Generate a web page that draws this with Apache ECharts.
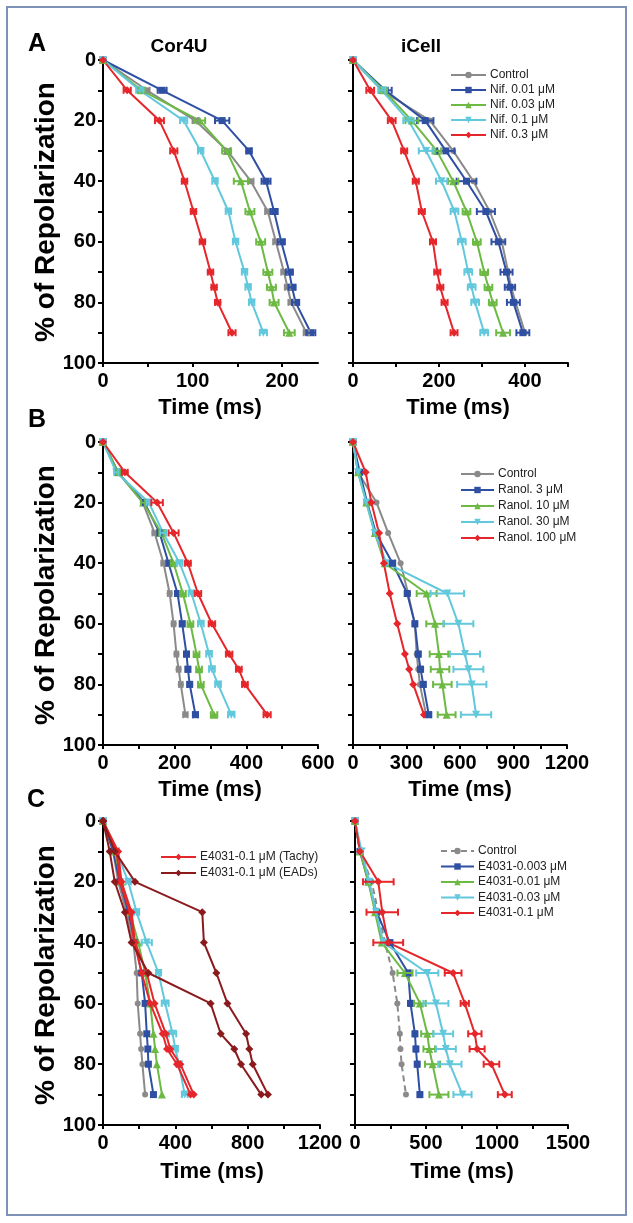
<!DOCTYPE html>
<html><head><meta charset="utf-8">
<script src="https://cdn.jsdelivr.net/npm/echarts@6/dist/echarts.min.js"></script>
<style>html,body{margin:0;padding:0;background:#fff}#c{width:633px;height:1223px}</style>
</head><body><div id="c"></div>
<script>
// ---------- data ----------
const pct = [0, 10, 20, 30, 40, 50, 60, 70, 75, 80, 90];
const yTicks = [0, 10, 20, 30, 40, 50, 60, 70, 80, 90, 100];
const yLabels = [0, 20, 40, 60, 80, 100];

// Panel A left (Cor4U, Nifedipine)
const aL_ctrl = [0, 49, 103, 139, 165, 184, 193, 202, 206, 210, 227];
const aL_n001 = [0, 66, 133, 163, 182, 191, 199, 208, 211, 215, 232];
const aL_n003 = [0, 43, 108, 138, 154, 164, 176, 184, 188, 191, 208];
const aL_n01  = [0, 41, 90, 109, 125, 140, 148, 158, 162, 166, 179];
const aL_n03  = [0, 27, 63, 79, 91, 101, 111, 120, 124, 128, 144];
const aL_ctrl_err = [0, 3, 3, 3, 3, 3, 3, 3, 3, 3, 3];
const aL_n001_err = [0, 5, 8, 3, 5, 4, 4, 4, 4, 4, 5];
const aL_n003_err = [0, 4, 6, 5, 8, 5, 5, 5, 5, 5, 6];
const aL_n01_err  = [0, 4, 4, 3, 3, 3, 3, 3, 3, 3, 4];
const aL_n03_err  = [0, 4, 5, 4, 3, 3, 3, 3, 3, 3, 4];

// Panel A right (iCell, Nifedipine)
const aR_ctrl = [0, 67, 179, 233, 280, 318, 346, 361, 368, 378, 400];
const aR_n001 = [0, 75, 168, 216, 264, 309, 338, 357, 365, 373, 395];
const aR_n003 = [0, 71, 137, 195, 233, 264, 288, 305, 315, 325, 349];
const aR_n01  = [0, 67, 129, 170, 206, 236, 253, 268, 276, 284, 305];
const aR_n03  = [0, 40, 90, 119, 146, 160, 186, 196, 203, 213, 235];
const aR_ctrl_err = [0, 0, 0, 0, 0, 0, 0, 0, 0, 0, 0];
const aR_n001_err = [0, 15, 19, 20, 23, 21, 16, 14, 12, 15, 15];
const aR_n003_err = [0, 8, 15, 10, 12, 9, 9, 9, 9, 9, 16];
const aR_n01_err  = [0, 8, 12, 17, 13, 9, 9, 9, 9, 9, 9];
const aR_n03_err  = [0, 9, 9, 7, 7, 7, 7, 7, 7, 7, 8];

// Panel B left (Cor4U, Ranolazine)
const bL_ctrl = [0, 42, 111, 144, 169, 186, 197, 205, 211, 217, 230];
const bL_r3   = [0, 42, 116, 158, 183, 208, 221, 233, 237, 242, 258];
const bL_r10  = [0, 42, 112, 163, 197, 223, 244, 261, 268, 273, 310];
const bL_r30  = [0, 37, 128, 168, 214, 247, 273, 296, 304, 321, 358];
const bL_r100 = [0, 61, 151, 197, 237, 265, 304, 352, 379, 396, 458];
const bL_ctrl_err = [0, 5, 5, 6, 6, 5, 5, 5, 5, 5, 6];
const bL_r3_err   = [0, 5, 5, 6, 6, 6, 6, 6, 6, 6, 7];
const bL_r10_err  = [0, 5, 6, 6, 8, 8, 8, 8, 8, 8, 9];
const bL_r30_err  = [0, 6, 6, 8, 8, 8, 8, 8, 8, 8, 9];
const bL_r100_err = [0, 8, 16, 14, 8, 9, 9, 9, 8, 8, 10];

// Panel B right (iCell, Ranolazine)
const bR_ctrl = [0, 28, 132, 197, 267, 309, 347, 357, 366, 375, 410];
const bR_r3   = [0, 38, 79, 128, 222, 304, 347, 366, 379, 394, 425];
const bR_r10  = [0, 28, 75, 122, 178, 413, 460, 482, 488, 501, 525];
const bR_r30  = [0, 28, 75, 122, 188, 529, 591, 628, 647, 666, 690];
const bR_r100 = [0, 71, 103, 146, 173, 206, 248, 291, 315, 338, 398];
const bR_ctrl_err = [0, 0, 0, 0, 0, 0, 0, 0, 0, 0, 0];
const bR_r3_err   = [0, 0, 0, 0, 14, 11, 11, 11, 11, 12, 12];
const bR_r10_err  = [0, 0, 0, 0, 0, 56, 49, 52, 52, 52, 50];
const bR_r30_err  = [0, 0, 0, 0, 0, 94, 84, 84, 84, 82, 85];
const bR_r100_err = [0, 0, 0, 0, 0, 0, 0, 0, 0, 0, 0];

// Panel C left (Cor4U, E4031)
const cL_ctrl = [0, 56, 84, 130, 168, 186, 192, 205, 211, 218, 233];
const cL_e003 = [0, 56, 93, 140, 177, 214, 233, 242, 248, 251, 279];
const cL_e01  = [0, 65, 102, 149, 195, 233, 261, 279, 288, 298, 326];
const cL_e03  = [0, 74, 140, 186, 242, 307, 344, 385, 400, 420, 452];
const cL_tachy1 = [0, 84, 102, 158, 177, 242, 285, 348, 372, 428, 502];
const cL_tachy2 = [0, 75, 93, 149, 173, 214, 261, 330, 354, 409, 484];
const cL_ead1 = [0, 65, 177, 549, 558, 627, 688, 791, 809, 828, 912];
const cL_ead2 = [0, 37, 65, 121, 158, 251, 595, 651, 726, 763, 875];
const cL_e03_err = [0, 8, 14, 14, 28, 14, 19, 20, 14, 14, 16];

// Panel C right (iCell, E4031)
const cR_ctrl = [0, 35, 117, 164, 211, 265, 298, 316, 320, 328, 359];
const cR_e0003 = [0, 35, 94, 152, 246, 375, 391, 422, 429, 438, 457];
const cR_e001  = [0, 35, 94, 141, 188, 352, 457, 509, 523, 546, 591];
const cR_e003  = [0, 47, 101, 148, 200, 509, 570, 621, 640, 668, 757];
const cR_e01   = [0, 35, 164, 192, 234, 691, 773, 844, 860, 961, 1055];
const cR_e0003_err = [0, 0, 0, 0, 0, 10, 10, 10, 10, 10, 10];
const cR_e001_err  = [0, 0, 0, 0, 0, 53, 41, 43, 41, 53, 67];
const cR_e003_err  = [0, 0, 0, 0, 0, 78, 88, 70, 70, 82, 64];
const cR_e01_err   = [0, 0, 108, 111, 105, 59, 29, 47, 53, 55, 49];

// axis ranges / tick labels
const xMax = [240, 500, 600, 1200, 1200, 1500];
const xTickVals = [
  [0, 50, 100, 150, 200],
  [0, 100, 200, 300, 400, 500],
  [0, 100, 200, 300, 400, 500, 600],
  [0, 150, 300, 450, 600, 750, 900, 1050, 1200],
  [0, 200, 400, 600, 800, 1000, 1200],
  [0, 250, 500, 750, 1000, 1250, 1500]
];
const xLabelVals = [
  [0, 100, 200],
  [0, 200, 400],
  [0, 200, 400, 600],
  [0, 300, 600, 900, 1200],
  [0, 400, 800, 1200],
  [0, 500, 1000, 1500]
];

// ---------- styling ----------
const FONT = "'Liberation Sans', Arial, sans-serif";
const C = {gray:'#8a8a8a', blue:'#2f4fa2', green:'#6cb944', cyan:'#62c8dc', red:'#e5262b', dark:'#8b1a1d'};
const grids = [
  {left:103, top:60,  width:215, height:303},
  {left:353, top:60,  width:215, height:303},
  {left:103, top:442, width:215, height:303},
  {left:353, top:442, width:214, height:303},
  {left:103, top:821, width:217, height:304},
  {left:355, top:821, width:213, height:304}
];

const series = [];
function addLine(name, g, vals, color, symbol, opt) {
  opt = opt || {};
  series.push({
    name: name, type: 'line', xAxisIndex: g, yAxisIndex: g,
    data: vals.map((v, i) => [v, pct[i]]),
    symbol: symbol, symbolSize: opt.size || 7, symbolRotate: opt.rot || 0,
    showAllSymbol: true, animation: false,
    lineStyle: {color: color, width: 2, type: opt.dash ? [6, 4] : 'solid'},
    itemStyle: {color: color},
    emphasis: {disabled: true}, z: opt.z || 3
  });
}
function addErr(g, vals, errs, color) {
  series.push({
    type: 'custom', xAxisIndex: g, yAxisIndex: g, animation: false, z: 4,
    data: vals.map((v, i) => [v, pct[i], errs[i]]),
    encode: {x: 0, y: 1},
    renderItem: function (params, api) {
      const x = api.value(0), y = api.value(1), e = api.value(2);
      if (!e) return null;
      const p1 = api.coord([x - e, y]), p2 = api.coord([x + e, y]);
      const h = 3.5, st = {stroke: color, lineWidth: 2};
      return {type: 'group', children: [
        {type: 'line', shape: {x1: p1[0], y1: p1[1], x2: p2[0], y2: p2[1]}, style: st},
        {type: 'line', shape: {x1: p1[0], y1: p1[1] - h, x2: p1[0], y2: p1[1] + h}, style: st},
        {type: 'line', shape: {x1: p2[0], y1: p2[1] - h, x2: p2[0], y2: p2[1] + h}, style: st}
      ]};
    }
  });
}
function group5(g, prefix, names, arrs, errs, ctrlDash) {
  const cols = [C.gray, C.blue, C.green, C.cyan, C.red];
  const syms = ['circle', 'rect', 'triangle', 'triangle', 'diamond'];
  const sizes = [6, 7, 8, 8, 8];
  for (let k = 0; k < 5; k++) {
    addLine(prefix + '|' + names[k], g, arrs[k], cols[k], syms[k],
      {size: sizes[k], rot: k === 3 ? 180 : 0, dash: k === 0 && ctrlDash});
    if (errs && errs[k]) addErr(g, arrs[k], errs[k], cols[k]);
  }
}

group5(0, 'AL', ['Control','Nif. 0.01 μM','Nif. 0.03 μM','Nif. 0.1 μM','Nif. 0.3 μM'],
  [aL_ctrl, aL_n001, aL_n003, aL_n01, aL_n03], [aL_ctrl_err, aL_n001_err, aL_n003_err, aL_n01_err, aL_n03_err]);
group5(1, 'AR', ['Control','Nif. 0.01 μM','Nif. 0.03 μM','Nif. 0.1 μM','Nif. 0.3 μM'],
  [aR_ctrl, aR_n001, aR_n003, aR_n01, aR_n03], [aR_ctrl_err, aR_n001_err, aR_n003_err, aR_n01_err, aR_n03_err]);
group5(2, 'BL', ['Control','Ranol. 3 μM','Ranol. 10 μM','Ranol. 30 μM','Ranol. 100 μM'],
  [bL_ctrl, bL_r3, bL_r10, bL_r30, bL_r100], [bL_ctrl_err, bL_r3_err, bL_r10_err, bL_r30_err, bL_r100_err]);
group5(3, 'BR', ['Control','Ranol. 3 μM','Ranol. 10 μM','Ranol. 30 μM','Ranol. 100 μM'],
  [bR_ctrl, bR_r3, bR_r10, bR_r30, bR_r100], [bR_ctrl_err, bR_r3_err, bR_r10_err, bR_r30_err, bR_r100_err]);
// C left
addLine('CL|Control', 4, cL_ctrl, C.gray, 'circle', {size: 6});
addLine('CL|E4031-0.003 μM', 4, cL_e003, C.blue, 'rect', {size: 7});
addLine('CL|E4031-0.01 μM', 4, cL_e01, C.green, 'triangle', {size: 8});
addLine('CL|E4031-0.03 μM', 4, cL_e03, C.cyan, 'triangle', {size: 8, rot: 180});
addErr(4, cL_e03, cL_e03_err, C.cyan);
addLine('CL|E4031-0.1 μM (Tachy)', 4, cL_tachy1, C.red, 'diamond', {size: 8, z: 5});
addLine('CL|E4031-0.1 μM (Tachy) ', 4, cL_tachy2, C.red, 'diamond', {size: 8, z: 5});
addLine('CL|E4031-0.1 μM (EADs)', 4, cL_ead1, C.dark, 'diamond', {size: 8, z: 5});
addLine('CL|E4031-0.1 μM (EADs) ', 4, cL_ead2, C.dark, 'diamond', {size: 8, z: 5});
group5(5, 'CR', ['Control','E4031-0.003 μM','E4031-0.01 μM','E4031-0.03 μM','E4031-0.1 μM'],
  [cR_ctrl, cR_e0003, cR_e001, cR_e003, cR_e01], [null, cR_e0003_err, cR_e001_err, cR_e003_err, cR_e01_err], true);

const axLine = {show: true, onZero: false, lineStyle: {color: '#000', width: 2}};
const xAxes = grids.map((g, i) => ({
  gridIndex: i, type: 'value', min: 0, max: xMax[i],
  axisLine: axLine,
  axisTick: {show: true, customValues: xTickVals[i], length: 4, lineStyle: {color: '#000', width: 2}},
  axisLabel: {customValues: xLabelVals[i], formatter: v => String(v), fontSize: 20, fontWeight: 'bold', color: '#000', fontFamily: FONT, margin: 8},
  splitLine: {show: false}
}));
const yAxes = grids.map((g, i) => ({
  gridIndex: i, type: 'value', inverse: true, min: 0, max: 100,
  axisLine: axLine,
  axisTick: {show: true, customValues: yTicks, length: 5, lineStyle: {color: '#000', width: 2}},
  axisLabel: {show: i % 2 === 0, customValues: yLabels, formatter: v => String(v), fontSize: 20, fontWeight: 'bold', color: '#000', fontFamily: FONT, margin: 7},
  splitLine: {show: false}
}));

function legendFor(prefix, names, left, centerTop, spacing, w) {
  const ih = 8, rowH = 12;
  return {
    orient: 'vertical', left: left, top: centerTop - rowH / 2, itemGap: spacing - rowH, itemWidth: w, itemHeight: ih,
    padding: 0, selectedMode: false,
    data: names.map(n => prefix + '|' + n),
    formatter: n => n.split('|')[1],
    textStyle: {fontSize: 12, lineHeight: 12, color: '#222', fontFamily: FONT, padding: [0, 0, 0, -1]}
  };
}

const texts = [];
function txt(x, y, s, size, rot) {
  texts.push({type: 'text', x: x, y: y, rotation: rot || 0,
    style: {text: s, font: 'bold ' + size + 'px ' + FONT, fill: '#000', align: 'center', verticalAlign: 'middle'}});
}
txt(37, 44, 'A', 25); txt(37, 420, 'B', 25); txt(36, 800, 'C', 25);
txt(179, 47, 'Cor4U', 19); txt(421, 47, 'iCell', 19);
[212, 595, 975].forEach(y => txt(46, y, '% of Repolarization', 28, Math.PI / 2));
[[210, 408], [458, 408], [210, 790], [460, 790], [212, 1172], [462, 1172]].forEach(p => txt(p[0], p[1], 'Time (ms)', 22));

const chart = echarts.init(document.getElementById('c'), null, {renderer: 'canvas'});
chart.setOption({
  backgroundColor: '#fff',
  animation: false,
  grid: grids,
  xAxis: xAxes,
  yAxis: yAxes,
  legend: [
    legendFor('AR', ['Control','Nif. 0.01 μM','Nif. 0.03 μM','Nif. 0.1 μM','Nif. 0.3 μM'], 450, 75, 15, 35),
    legendFor('BR', ['Control','Ranol. 3 μM','Ranol. 10 μM','Ranol. 30 μM','Ranol. 100 μM'], 460, 474, 16, 33),
    legendFor('CL', ['E4031-0.1 μM (Tachy)','E4031-0.1 μM (EADs)'], 160, 857, 16, 35),
    legendFor('CR', ['Control','E4031-0.003 μM','E4031-0.01 μM','E4031-0.03 μM','E4031-0.1 μM'], 440, 851, 15.5, 33)
  ],
  series: series,
  graphic: [
    {type: 'rect', shape: {x: 7, y: 7, width: 619, height: 1208}, style: {fill: 'none', stroke: '#7d92b6', lineWidth: 2}, z: 100}
  ].concat(texts)
});
</script></body></html>
